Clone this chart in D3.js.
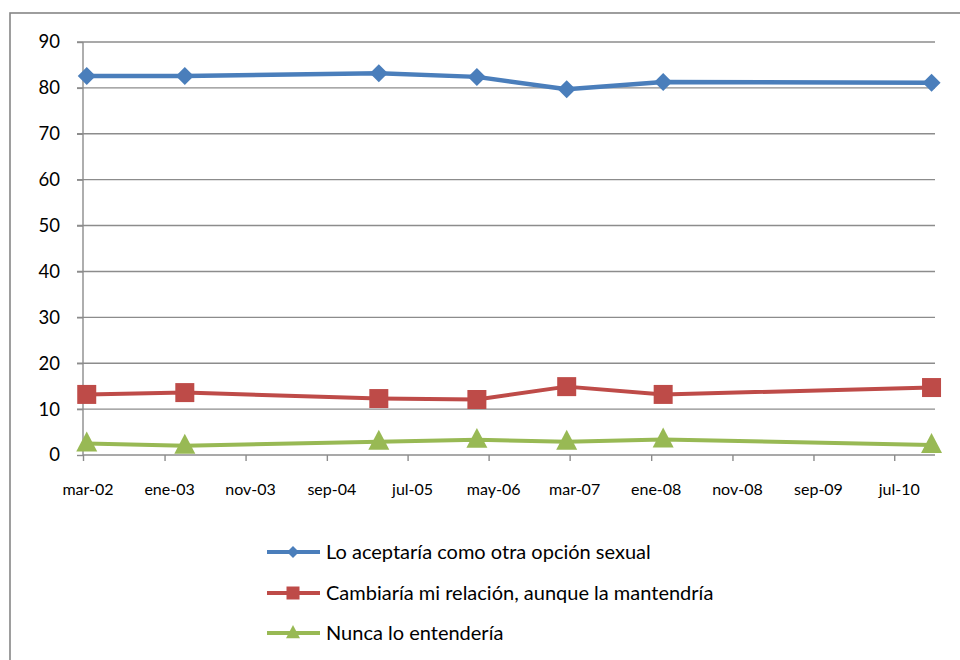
<!DOCTYPE html>
<html>
<head>
<meta charset="utf-8">
<script src="https://cdn.jsdelivr.net/npm/d3@7"></script>
<style>
  html, body { margin: 0; padding: 0; background: #fff; }
  svg { display: block; font-family: Lato, "Open Sans", sans-serif; }
</style>
</head>
<body>
<svg id="chart" width="960" height="660"></svg>
<script>
// Survey waves (approximate fieldwork dates)
const surveyDates = ["2002-03-15", "2003-03-18", "2005-03-15", "2006-03-18", "2007-02-18", "2008-02-15", "2010-11-18"];

const seriesNames = [
  "Lo aceptaría como otra opción sexual",
  "Cambiaría mi relación, aunque la mantendría",
  "Nunca lo entendería"
];
const aceptaria   = [82.6, 82.6, 83.2, 82.4, 79.7, 81.3, 81.1];
const cambiaria   = [13.2, 13.6, 12.3, 12.1, 14.9, 13.2, 14.7];
const nunca       = [2.5, 2.0, 2.9, 3.3, 2.9, 3.4, 2.2];

const xTickLabels = ["mar-02", "ene-03", "nov-03", "sep-04", "jul-05", "may-06", "mar-07", "ene-08", "nov-08", "sep-09", "jul-10"];
const yTicks = [0, 10, 20, 30, 40, 50, 60, 70, 80, 90];

const colors = ["#4a7ebb", "#be4b48", "#98b954"];
const markers = ["diamond", "square", "triangle"];

const parse = d3.timeParse("%Y-%m-%d");
const dates = surveyDates.map(parse);
const seriesValues = [aceptaria, cambiaria, nunca];

const svg = d3.select("#chart");

// Outer chart frame
svg.append("rect")
  .attr("x", 10).attr("y", 13)
  .attr("width", 1000).attr("height", 700)
  .attr("fill", "none").attr("stroke", "#868686").attr("stroke-width", 1.6);

const plotLeft = 83, plotRight = 935, plotTop = 42, plotBottom = 455;

const axisStart = new Date(2002, 2, 1);
const axisEnd = d3.timeMonth.offset(axisStart, 105);
const x = d3.scaleTime().domain([axisStart, axisEnd]).range([plotLeft, plotRight]);
const y = d3.scaleLinear().domain([0, 90]).range([plotBottom, plotTop]);

const tickDates = xTickLabels.map((_, i) => d3.timeMonth.offset(axisStart, 10 * i));

// Horizontal gridlines
svg.append("g").selectAll("line").data(yTicks.filter(v => v > 0)).join("line")
  .attr("x1", plotLeft - 6).attr("x2", plotRight)
  .attr("y1", d => y(d)).attr("y2", d => y(d))
  .attr("stroke", "#8c8c8c").attr("stroke-width", 1.4);

// Y axis
const yAxis = svg.append("g")
  .attr("transform", `translate(${plotLeft},0)`)
  .call(d3.axisLeft(y).tickValues(yTicks).tickSize(6).tickPadding(17).tickFormat(d3.format("d")));
yAxis.select(".domain").attr("stroke", "#8c8c8c").attr("stroke-width", 1.4)
  .attr("d", `M0,${plotBottom}V${plotTop}`);
yAxis.selectAll(".tick line").attr("stroke", "#8c8c8c").attr("stroke-width", 1.4);
yAxis.selectAll("text").attr("font-size", 18.5).attr("fill", "#000").attr("font-family", "Lato");

// X axis
const xAxis = svg.append("g")
  .attr("transform", `translate(0,${plotBottom})`)
  .call(d3.axisBottom(x).tickValues(tickDates).tickSize(6).tickPadding(23)
    .tickFormat((d, i) => xTickLabels[i]));
xAxis.select(".domain").attr("stroke", "#8c8c8c").attr("stroke-width", 1.4)
  .attr("d", `M${plotLeft},0H${plotRight}`);
xAxis.selectAll(".tick line").attr("stroke", "#8c8c8c").attr("stroke-width", 1.4);
xAxis.selectAll("text").attr("font-size", 16).attr("fill", "#000").attr("dx", 4.5).attr("font-family", "Lato");

function markerPath(type, size) {
  const h = size / 2;
  if (type === "diamond") return `M0,${-h}L${h},0L0,${h}L${-h},0Z`;
  if (type === "square") return `M${-h},${-h}H${h}V${h}H${-h}Z`;
  const th = size * 0.95;
  return `M0,${-th * 0.6}L${h},${th * 0.4}L${-h},${th * 0.4}Z`;
}

const line = d3.line().x(d => x(d.date)).y(d => y(d.value));
const plotSizes = [18, 19, 21];
const strokeWidths = [4.5, 4, 4];

seriesValues.forEach((vals, si) => {
  const pts = vals.map((v, i) => ({ date: dates[i], value: v }));
  const g = svg.append("g");
  g.append("path").datum(pts)
    .attr("d", line)
    .attr("fill", "none")
    .attr("stroke", colors[si])
    .attr("stroke-width", strokeWidths[si])
    .attr("stroke-linejoin", "round");
  g.selectAll("path.mk").data(pts).join("path")
    .attr("class", "mk")
    .attr("transform", d => `translate(${x(d.date)},${y(d.value)})`)
    .attr("d", markerPath(markers[si], plotSizes[si]))
    .attr("fill", colors[si]);
});

// Legend
const legendRows = [552, 593, 633];
const legendSizes = [12, 13, 14];
const legend = svg.append("g");
seriesNames.forEach((name, i) => {
  const row = legend.append("g").attr("transform", `translate(0,${legendRows[i]})`);
  row.append("line").attr("x1", 267).attr("x2", 320).attr("y1", 0).attr("y2", 0)
    .attr("stroke", colors[i]).attr("stroke-width", 4);
  row.append("path").attr("transform", "translate(293,0)")
    .attr("d", markerPath(markers[i], legendSizes[i])).attr("fill", colors[i]);
  row.append("text").attr("x", 326).attr("y", 7)
    .attr("font-size", 20).attr("font-family", "Lato").attr("fill", "#000")
    .text(name);
});
</script>
</body>
</html>
